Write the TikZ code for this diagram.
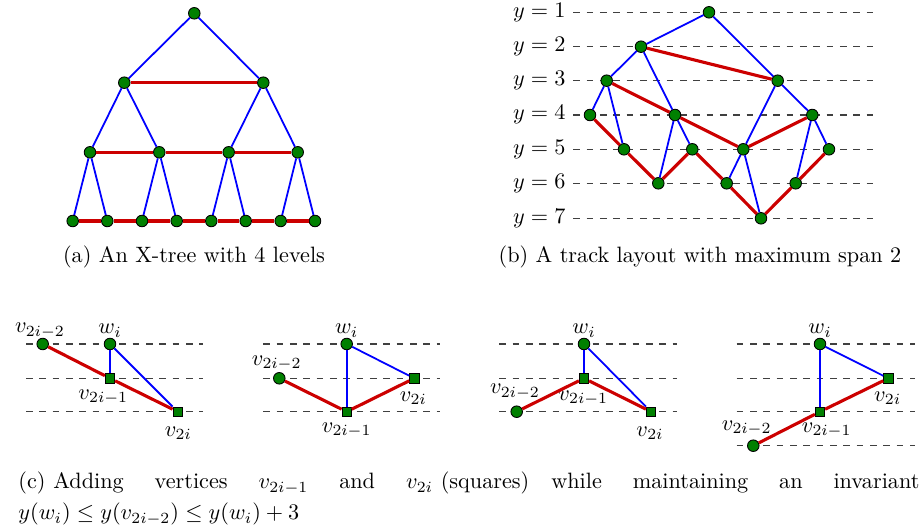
\documentclass[tikz,border=0pt]{standalone}
\usepackage{amsmath}
\usepackage{tikz}
\usetikzlibrary{positioning}
\tikzstyle{vertex} = [circle, draw=black, fill=green!50!black, inner sep=0pt,
 minimum size=5.2pt]
\tikzstyle{newvertex} = [rectangle, draw=black, fill=green!50!black, inner sep=0pt,
 minimum size=4.2pt]
\tikzstyle{treeedge} = [draw=blue, line width=0.8pt]
\tikzstyle{crossedge} = [draw=red!80!black, line width=1.4pt]
\tikzstyle{track} = [dashed, black!75, line width=0.5pt]
\tikzstyle{lbl} = [inner sep=0pt]

\begin{document}
\begin{tikzpicture}[x=0.45pt, y=-0.45pt]
\useasboundingbox (0,0) rectangle (922,527);
% (a) X-tree
\node(r) [vertex] at (194.3,13.3) {};
\node(a1) [vertex] at (124.3,82.7) {};
\node(a2) [vertex] at (263.3,82.7) {};
\node(b1) [vertex] at (90,152.3) {};
\node(b2) [vertex] at (159.3,152.3) {};
\node(b3) [vertex] at (228.7,152.3) {};
\node(b4) [vertex] at (297.7,152.3) {};
\node(c1) [vertex] at (72.7,221) {};
\node(c2) [vertex] at (107.3,221) {};
\node(c3) [vertex] at (142,221) {};
\node(c4) [vertex] at (176.7,221) {};
\node(c5) [vertex] at (211.3,221) {};
\node(c6) [vertex] at (245.7,221) {};
\node(c7) [vertex] at (280.7,221) {};
\node(c8) [vertex] at (315,221) {};
\draw[treeedge] (r) -- (a1);
\draw[treeedge] (r) -- (a2);
\draw[treeedge] (a1) -- (b1);
\draw[treeedge] (a1) -- (b2);
\draw[treeedge] (a2) -- (b3);
\draw[treeedge] (a2) -- (b4);
\draw[treeedge] (b1) -- (c1);
\draw[treeedge] (b1) -- (c2);
\draw[treeedge] (b2) -- (c3);
\draw[treeedge] (b2) -- (c4);
\draw[treeedge] (b3) -- (c5);
\draw[treeedge] (b3) -- (c6);
\draw[treeedge] (b4) -- (c7);
\draw[treeedge] (b4) -- (c8);
\draw[crossedge] (a1) -- (a2);
\draw[crossedge] (b1) -- (b2);
\draw[crossedge] (b2) -- (b3);
\draw[crossedge] (b3) -- (b4);
\draw[crossedge] (c1) -- (c2);
\draw[crossedge] (c2) -- (c3);
\draw[crossedge] (c3) -- (c4);
\draw[crossedge] (c4) -- (c5);
\draw[crossedge] (c5) -- (c6);
\draw[crossedge] (c6) -- (c7);
\draw[crossedge] (c7) -- (c8);
\node(capa) [anchor=base] at (194,263) {(a) An X-tree with 4 levels};

% (b) track layout
\node(lvl1) [anchor=east] at (573.3,12.3) {$y=1$};
\node(lvl2) [anchor=east] at (573.3,46.7) {$y=2$};
\node(lvl3) [anchor=east] at (573.3,80.7) {$y=3$};
\node(lvl4) [anchor=east] at (573.3,115) {$y=4$};
\node(lvl5) [anchor=east] at (573.3,149.3) {$y=5$};
\node(lvl6) [anchor=east] at (573.3,183.3) {$y=6$};
\node(lvl7) [anchor=east] at (573.3,218.3) {$y=7$};
\coordinate(end1) at (873.3,12.3);
\coordinate(end2) at (873.3,46.7);
\coordinate(end3) at (873.3,80.7);
\coordinate(end4) at (873.3,115);
\coordinate(end5) at (873.3,149.3);
\coordinate(end6) at (873.3,183.3);
\coordinate(end7) at (873.3,218.3);
\draw[track] (lvl1.east) -- (end1);
\draw[track] (lvl2.east) -- (end2);
\draw[track] (lvl3.east) -- (end3);
\draw[track] (lvl4.east) -- (end4);
\draw[track] (lvl5.east) -- (end5);
\draw[track] (lvl6.east) -- (end6);
\draw[track] (lvl7.east) -- (end7);
\node(x0) [vertex] at (709,12.3) {};
\node(x1) [vertex] at (641,46.7) {};
\node(x2) [vertex] at (777.7,80.7) {};
\node(x11) [vertex] at (606.7,80.7) {};
\node(x12) [vertex] at (675,115) {};
\node(x21) [vertex] at (743.3,149.3) {};
\node(x22) [vertex] at (812.3,115) {};
\node(x111) [vertex] at (590,115) {};
\node(x112) [vertex] at (624,149.3) {};
\node(x121) [vertex] at (658.3,183.3) {};
\node(x122) [vertex] at (692.3,149.3) {};
\node(x211) [vertex] at (726.7,183.3) {};
\node(x212) [vertex] at (761,218.3) {};
\node(x221) [vertex] at (795.7,183.3) {};
\node(x222) [vertex] at (829,149.3) {};
\draw[treeedge] (x0) -- (x1);
\draw[treeedge] (x0) -- (x2);
\draw[treeedge] (x1) -- (x11);
\draw[treeedge] (x1) -- (x12);
\draw[treeedge] (x2) -- (x21);
\draw[treeedge] (x2) -- (x22);
\draw[treeedge] (x11) -- (x111);
\draw[treeedge] (x11) -- (x112);
\draw[treeedge] (x12) -- (x121);
\draw[treeedge] (x12) -- (x122);
\draw[treeedge] (x21) -- (x211);
\draw[treeedge] (x21) -- (x212);
\draw[treeedge] (x22) -- (x221);
\draw[treeedge] (x22) -- (x222);
\draw[crossedge] (x1) -- (x2);
\draw[crossedge] (x11) -- (x12);
\draw[crossedge] (x12) -- (x21);
\draw[crossedge] (x21) -- (x22);
\draw[crossedge] (x111) -- (x112);
\draw[crossedge] (x112) -- (x121);
\draw[crossedge] (x121) -- (x122);
\draw[crossedge] (x122) -- (x211);
\draw[crossedge] (x211) -- (x212);
\draw[crossedge] (x212) -- (x221);
\draw[crossedge] (x221) -- (x222);
\node(capb) [anchor=base] at (700,263) {(b) A track layout with maximum span 2};

% (c) four cases
\draw[track] (26,344) -- (203.3,344);
\draw[track] (26,378.3) -- (203.3,378.3);
\draw[track] (26,411.7) -- (203.3,411.7);
\draw[track] (263.3,344) -- (440,344);
\draw[track] (263.3,378.3) -- (440,378.3);
\draw[track] (263.3,411.7) -- (440,411.7);
\draw[track] (499.3,344) -- (676.7,344);
\draw[track] (499.3,378.3) -- (676.7,378.3);
\draw[track] (499.3,411.7) -- (676.7,411.7);
\draw[track] (736.7,344) -- (915,344);
\draw[track] (736.7,378.3) -- (915,378.3);
\draw[track] (736.7,411.7) -- (915,411.7);
\draw[track] (736.7,445.7) -- (915,445.7);
% case 1
\node(u1) [vertex] at (42.7,344) {};
\node(w1) [vertex] at (110,344) {};
\node(s1) [newvertex] at (110,378.3) {};
\node(t1) [newvertex] at (177.7,411.7) {};
\node(lu1) [lbl] at (40,330.7) {$v_{2i-2}$};
\node(lw1) [lbl] at (110,330.7) {$w_i$};
\node(ls1) [lbl] at (103.3,397.3) {$v_{2i-1}$};
\node(lt1) [lbl] at (178.3,433.3) {$v_{2i}$};
\draw[treeedge] (w1) -- (s1);
\draw[treeedge] (w1) -- (t1);
\draw[crossedge] (u1) -- (s1);
\draw[crossedge] (s1) -- (t1);
% case 2
\node(w2) [vertex] at (346.7,344) {};
\node(u2) [vertex] at (279.3,378.3) {};
\node(t2) [newvertex] at (414.3,378.3) {};
\node(s2) [newvertex] at (346.7,411.7) {};
\node(lw2) [lbl] at (346.7,330.7) {$w_i$};
\node(lu2) [lbl] at (276.7,363.3) {$v_{2i-2}$};
\node(lt2) [lbl] at (413.3,398.3) {$v_{2i}$};
\node(ls2) [lbl] at (346.7,430) {$v_{2i-1}$};
\draw[treeedge] (w2) -- (s2);
\draw[treeedge] (w2) -- (t2);
\draw[crossedge] (u2) -- (s2);
\draw[crossedge] (s2) -- (t2);
% case 3
\node(w3) [vertex] at (584,344) {};
\node(s3) [newvertex] at (584,378.3) {};
\node(u3) [vertex] at (516.7,411.7) {};
\node(t3) [newvertex] at (651,411.7) {};
\node(lw3) [lbl] at (584,330.7) {$w_i$};
\node(lu3) [lbl] at (515,391.7) {$v_{2i-2}$};
\node(ls3) [lbl] at (583.3,398.3) {$v_{2i-1}$};
\node(lt3) [lbl] at (650,433.3) {$v_{2i}$};
\draw[treeedge] (w3) -- (s3);
\draw[treeedge] (w3) -- (t3);
\draw[crossedge] (u3) -- (s3);
\draw[crossedge] (s3) -- (t3);
% case 4
\node(w4) [vertex] at (820,344) {};
\node(t4) [newvertex] at (888.3,378.3) {};
\node(s4) [newvertex] at (820,411.7) {};
\node(u4) [vertex] at (753.3,445.7) {};
\node(lw4) [lbl] at (820,330.7) {$w_i$};
\node(lt4) [lbl] at (887.7,398.3) {$v_{2i}$};
\node(ls4) [lbl] at (826.7,430) {$v_{2i-1}$};
\node(lu4) [lbl] at (746.7,428.3) {$v_{2i-2}$};
\draw[treeedge] (w4) -- (s4);
\draw[treeedge] (w4) -- (t4);
\draw[crossedge] (u4) -- (s4);
\draw[crossedge] (s4) -- (t4);
\node(capc) [anchor=base west, inner sep=0pt] at (18,489)
 {\makebox[405.45pt][s]{(c)\hspace{0.35em}Adding vertices $v_{2i-1}$ and $v_{2i}$\hspace{0.35em}(squares)\hspace{0.35em plus 1pt}while maintaining an invariant}};
\node(capc2) [anchor=base west, inner sep=0pt] at (18,520)
 {$y(w_i) \le y(v_{2i-2}) \le y(w_i) + 3$};
\end{tikzpicture}
\end{document}
